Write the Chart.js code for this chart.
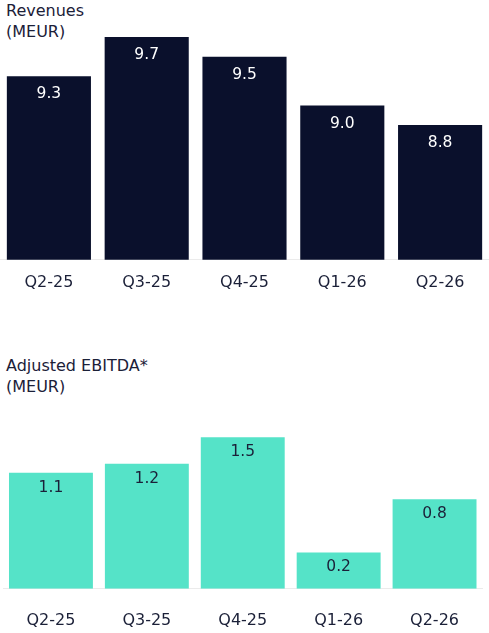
<!DOCTYPE html>
<html>
<head>
<meta charset="utf-8">
<script src="https://cdn.jsdelivr.net/npm/chart.js@4/dist/chart.umd.min.js"></script>
<style>
  html, body { margin: 0; padding: 0; background: #ffffff; }
  body { width: 489px; height: 633px; position: relative; overflow: hidden; font-family: "DejaVu Sans", sans-serif; }
  .title { position: absolute; left: 6px; font-size: 16px; line-height: 21px; color: #1b2038; white-space: nowrap; }
  canvas { position: absolute; left: 0; }
</style>
</head>
<body>
<div class="title" style="top:0px">Revenues<br>(MEUR)</div>
<div class="title" style="top:355px">Adjusted EBITDA*<br>(MEUR)</div>
<canvas id="rev" width="489" height="314" style="top:0px"></canvas>
<canvas id="ebitda" width="489" height="316" style="top:340px"></canvas>
<script>
const categories = ["Q2-25", "Q3-25", "Q4-25", "Q1-26", "Q2-26"];
const revenues = [9.3, 9.7, 9.5, 9.0, 8.8];
const adjustedEbitda = [1.1, 1.2, 1.5, 0.2, 0.8];

const NAVY = "#0a102c";
const TURQ = "#55e3c8";
const TEXT = "#1b2038";
const FONT = "DejaVu Sans";

function valueLabels(color, offset) {
  return {
    id: "valueLabels",
    afterDatasetsDraw(chart) {
      const ctx = chart.ctx;
      const meta = chart.getDatasetMeta(0);
      const data = chart.data.datasets[0].data;
      ctx.save();
      ctx.fillStyle = color;
      ctx.font = "15.5px '" + FONT + "'";
      ctx.textAlign = "center";
      ctx.textBaseline = "middle";
      meta.data.forEach((bar, i) => {
        ctx.fillText(data[i].toFixed(1), bar.x, bar.y + offset);
      });
      ctx.restore();
    }
  };
}

function makeChart(id, values, color, yMin, yMax, pad, tickPad, barPct, labelColor, labelOffset, base) {
  const ds = {
    data: values,
    backgroundColor: color,
    borderWidth: 0,
    barPercentage: barPct,
    categoryPercentage: 1.0
  };
  if (base !== undefined) ds.base = base;
  return new Chart(document.getElementById(id), {
    type: "bar",
    data: { labels: categories, datasets: [ds] },
    options: {
      responsive: false,
      animation: false,
      layout: { padding: pad },
      plugins: { legend: { display: false }, tooltip: { enabled: false }, title: { display: false } },
      scales: {
        x: {
          grid: { display: false, drawTicks: false },
          border: { display: true, color: "#ebebeb", width: 1 },
          ticks: { color: TEXT, font: { family: FONT, size: 16 }, padding: tickPad, maxRotation: 0 }
        },
        y: { display: false, min: yMin, max: yMax }
      }
    },
    plugins: [valueLabels(labelColor, labelOffset)]
  });
}

makeChart("rev", revenues, NAVY, 7.42, 10.0,
  { top: 7.8, left: 0, right: 0, bottom: 9 }, 13, 0.86, "#ffffff", 18);
makeChart("ebitda", adjustedEbitda, TURQ, -0.21, 2.0,
  { top: 52.9, left: 3, right: 6.5, bottom: 4 }, 22, 0.875, TEXT, 15, -0.21);
</script>
</body>
</html>
